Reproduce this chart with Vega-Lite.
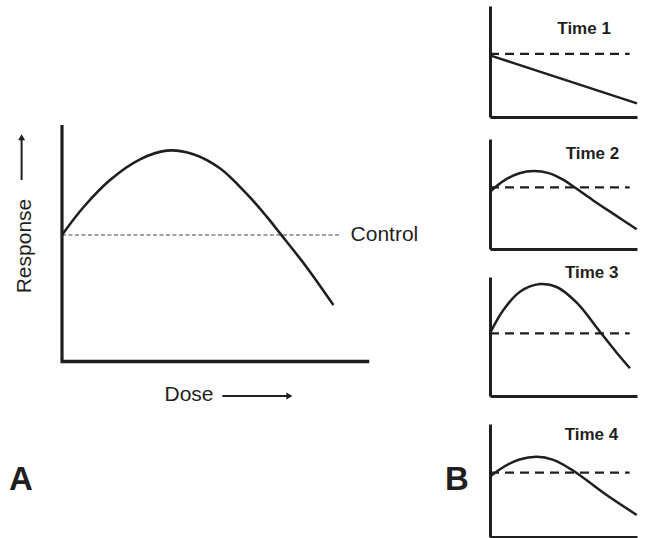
{
  "$schema": "https://vega.github.io/schema/vega-lite/v6.json",
  "padding": {"top": 6, "left": 0, "right": 0, "bottom": 0},
  "background": "white",
  "bounds": "flush",
  "config": {
    "view": {"stroke": null},
    "font": "Liberation Sans",
    "axis": {"domain": true, "domainWidth": 3, "domainColor": "#1f1f1f", "ticks": false, "labels": false, "grid": false, "title": null},
    "text": {"font": "Liberation Sans", "color": "#1f1f1f"}
  },
  "datasets": {
    "curves": [
      {"panel": "A", "dose": 0, "response": 53.2},
      {"panel": "A", "dose": 7, "response": 65.0},
      {"panel": "A", "dose": 15.7, "response": 76.6},
      {"panel": "A", "dose": 25.5, "response": 85.4},
      {"panel": "A", "dose": 34.2, "response": 89.1},
      {"panel": "A", "dose": 42.9, "response": 87.6},
      {"panel": "A", "dose": 51.6, "response": 81.6},
      {"panel": "A", "dose": 60.3, "response": 70.8},
      {"panel": "A", "dose": 66.9, "response": 61.0},
      {"panel": "A", "dose": 71.2, "response": 54.0},
      {"panel": "A", "dose": 80.0, "response": 39.4},
      {"panel": "A", "dose": 88.7, "response": 23.4},
      {"panel": "Time 1", "dose": 0, "response": 55.5},
      {"panel": "Time 1", "dose": 100, "response": 12.3},
      {"panel": "Time 2", "dose": 0, "response": 52.1},
      {"panel": "Time 2", "dose": 10, "response": 62.6},
      {"panel": "Time 2", "dose": 20, "response": 68.9},
      {"panel": "Time 2", "dose": 30, "response": 71.0},
      {"panel": "Time 2", "dose": 40, "response": 69.0},
      {"panel": "Time 2", "dose": 50, "response": 62.8},
      {"panel": "Time 2", "dose": 58, "response": 55.6},
      {"panel": "Time 2", "dose": 70, "response": 44.4},
      {"panel": "Time 2", "dose": 85, "response": 31.0},
      {"panel": "Time 2", "dose": 99.8, "response": 17.9},
      {"panel": "Time 3", "dose": 0.5, "response": 54.0},
      {"panel": "Time 3", "dose": 9.1, "response": 72.3},
      {"panel": "Time 3", "dose": 20.4, "response": 87.6},
      {"panel": "Time 3", "dose": 34.0, "response": 94.1},
      {"panel": "Time 3", "dose": 45.4, "response": 91.6},
      {"panel": "Time 3", "dose": 59.0, "response": 78.4},
      {"panel": "Time 3", "dose": 74.8, "response": 54.0},
      {"panel": "Time 3", "dose": 86.2, "response": 36.4},
      {"panel": "Time 3", "dose": 95.2, "response": 23.3},
      {"panel": "Time 4", "dose": 0.5, "response": 54.0},
      {"panel": "Time 4", "dose": 10, "response": 62.6},
      {"panel": "Time 4", "dose": 20, "response": 68.6},
      {"panel": "Time 4", "dose": 31.8, "response": 71.1},
      {"panel": "Time 4", "dose": 43.1, "response": 68.3},
      {"panel": "Time 4", "dose": 56.7, "response": 58.6},
      {"panel": "Time 4", "dose": 77.1, "response": 39.2},
      {"panel": "Time 4", "dose": 99.8, "response": 19.5}
    ],
    "controls": [
      {"panel": "A", "control": 53.2, "label": "Control"},
      {"panel": "Time 1", "control": 56.8, "label": "Time 1"},
      {"panel": "Time 2", "control": 56.0, "label": "Time 2"},
      {"panel": "Time 3", "control": 52.7, "label": "Time 3"},
      {"panel": "Time 4", "control": 56.9, "label": "Time 4"}
    ]
  },
  "hconcat": [
    {
      "width": 490,
      "height": 532,
      "layer": [
        {
          "data": {"name": "controls"},
          "transform": [{"filter": "datum.panel === 'A'"}],
          "mark": {"type": "rule", "strokeWidth": 1, "strokeDash": [4, 2.5], "color": "#444"},
          "encoding": {
            "y": {"field": "control", "type": "quantitative", "scale": {"domain": [-75.74, 150.64], "nice": false, "zero": false}, "axis": null},
            "x": {"datum": 0, "type": "quantitative", "scale": {"domain": [-20.26, 139.87], "nice": false, "zero": false}, "axis": null},
            "x2": {"datum": 90.8}
          }
        },
        {
          "data": {"name": "controls"},
          "transform": [{"filter": "datum.panel === 'A'"}],
          "mark": {"type": "text", "align": "left", "baseline": "middle", "fontSize": 21},
          "encoding": {
            "y": {"field": "control", "type": "quantitative"},
            "x": {"datum": 94.3, "type": "quantitative"},
            "text": {"field": "label"}
          }
        },
        {
          "data": {"name": "curves"},
          "transform": [{"filter": "datum.panel === 'A'"}],
          "mark": {"type": "line", "interpolate": "catmull-rom", "strokeWidth": 2.6, "color": "#1f1f1f"},
          "encoding": {
            "x": {"field": "dose", "type": "quantitative"},
            "y": {"field": "response", "type": "quantitative"}
          }
        },
        {
          "data": {"values": [{"axis": "response"}]},
          "mark": {"type": "rule", "strokeWidth": 3.2, "color": "#1f1f1f"},
          "encoding": {"x": {"datum": 0, "type": "quantitative"}, "y": {"datum": 0, "type": "quantitative"}, "y2": {"datum": 100}}
        },
        {
          "data": {"values": [{"axis": "dose"}]},
          "mark": {"type": "rule", "strokeWidth": 3.5, "color": "#1f1f1f"},
          "encoding": {"x": {"datum": -0.5, "type": "quantitative"}, "x2": {"datum": 100.4}, "y": {"datum": -0.6, "type": "quantitative"}}
        },
        {
          "data": {"values": [{"t": "Response"}]},
          "mark": {"type": "text", "angle": 270, "align": "center", "baseline": "middle", "fontSize": 21},
          "encoding": {"x": {"datum": -12.0, "type": "quantitative"}, "y": {"datum": 48.5, "type": "quantitative"}, "text": {"field": "t"}}
        },
        {
          "data": {"values": [{"t": "Dose"}]},
          "mark": {"type": "text", "align": "center", "baseline": "middle", "fontSize": 21},
          "encoding": {"x": {"datum": 41.5, "type": "quantitative"}, "y": {"datum": -14.9, "type": "quantitative"}, "text": {"field": "t"}}
        },
        {
          "data": {"values": [{"t": "response arrow"}]},
          "mark": {"type": "rule", "strokeWidth": 2, "color": "#1f1f1f"},
          "encoding": {"x": {"datum": -13.2, "type": "quantitative"}, "y": {"datum": 76.6, "type": "quantitative"}, "y2": {"datum": 94.0}}
        },
        {
          "data": {"values": [{"t": "response arrow"}]},
          "mark": {"type": "point", "shape": "triangle-up", "filled": true, "size": 50, "color": "#1f1f1f", "opacity": 1},
          "encoding": {"x": {"datum": -13.2, "type": "quantitative"}, "y": {"datum": 94.8, "type": "quantitative"}}
        },
        {
          "data": {"values": [{"t": "dose arrow"}]},
          "mark": {"type": "rule", "strokeWidth": 2, "color": "#1f1f1f"},
          "encoding": {"x": {"datum": 52.4, "type": "quantitative"}, "x2": {"datum": 73.5}, "y": {"datum": -15.3, "type": "quantitative"}}
        },
        {
          "data": {"values": [{"t": "dose arrow"}]},
          "mark": {"type": "point", "shape": "triangle-right", "filled": true, "size": 50, "color": "#1f1f1f", "opacity": 1},
          "encoding": {"x": {"datum": 74.3, "type": "quantitative"}, "y": {"datum": -15.3, "type": "quantitative"}}
        },
        {
          "data": {"values": [{"t": "A"}]},
          "mark": {"type": "text", "align": "center", "baseline": "middle", "fontSize": 33, "fontWeight": "bold"},
          "encoding": {"x": {"datum": -13.4, "type": "quantitative"}, "y": {"datum": -51.1, "type": "quantitative"}, "text": {"field": "t"}}
        },
        {
          "data": {"values": [{"t": "B"}]},
          "mark": {"type": "text", "align": "center", "baseline": "middle", "fontSize": 33, "fontWeight": "bold"},
          "encoding": {"x": {"datum": 129.1, "type": "quantitative"}, "y": {"datum": -51.1, "type": "quantitative"}, "text": {"field": "t"}}
        }
      ]
    },
    {
      "spacing": 22,
      "bounds": "flush",
      "vconcat": [
        {
          "width": 147,
          "height": 111,
          "layer": [
            {
              "data": {"name": "controls"},
              "transform": [{"filter": "datum.panel === 'Time 1'"}],
              "mark": {"type": "rule", "strokeWidth": 2.2, "strokeDash": [9, 6], "color": "#1f1f1f"},
              "encoding": {"y": {"field": "control", "type": "quantitative"}, "x": {"datum": 0, "type": "quantitative"}, "x2": {"datum": 95}}
            },
            {
              "data": {"name": "curves"},
              "transform": [{"filter": "datum.panel === 'Time 1'"}],
              "mark": {"type": "line", "interpolate": "catmull-rom", "strokeWidth": 2.5, "color": "#1f1f1f"},
              "encoding": {
                "x": {"field": "dose", "type": "quantitative", "scale": {"domain": [0, 100], "nice": false, "zero": false}},
                "y": {"field": "response", "type": "quantitative", "scale": {"domain": [0, 100], "nice": false, "zero": false}}
              }
            },
            {
              "data": {"name": "controls"},
              "transform": [{"filter": "datum.panel === 'Time 1'"}],
              "mark": {"type": "text", "align": "center", "baseline": "middle", "fontSize": 17, "fontWeight": "bold"},
              "encoding": {"x": {"datum": 64, "type": "quantitative"}, "y": {"datum": 79.3, "type": "quantitative"}, "text": {"field": "label"}}
            }
          ]
        },
        {
          "spacing": 28,
          "bounds": "flush",
          "vconcat": [
            {
              "width": 147,
              "height": 110,
              "layer": [
                {
                  "data": {"name": "controls"},
                  "transform": [{"filter": "datum.panel === 'Time 2'"}],
                  "mark": {"type": "rule", "strokeWidth": 2.2, "strokeDash": [9, 6], "color": "#1f1f1f"},
                  "encoding": {"y": {"field": "control", "type": "quantitative"}, "x": {"datum": 0, "type": "quantitative"}, "x2": {"datum": 95}}
                },
                {
                  "data": {"name": "curves"},
                  "transform": [{"filter": "datum.panel === 'Time 2'"}],
                  "mark": {"type": "line", "interpolate": "catmull-rom", "strokeWidth": 2.5, "color": "#1f1f1f"},
                  "encoding": {
                    "x": {"field": "dose", "type": "quantitative", "scale": {"domain": [0, 100], "nice": false, "zero": false}},
                    "y": {"field": "response", "type": "quantitative", "scale": {"domain": [0, 100], "nice": false, "zero": false}}
                  }
                },
                {
                  "data": {"name": "controls"},
                  "transform": [{"filter": "datum.panel === 'Time 2'"}],
                  "mark": {"type": "text", "align": "center", "baseline": "middle", "fontSize": 17, "fontWeight": "bold"},
                  "encoding": {"x": {"datum": 69.7, "type": "quantitative"}, "y": {"datum": 86.8, "type": "quantitative"}, "text": {"field": "label"}}
                }
              ]
            },
            {
              "width": 147,
              "height": 119,
              "layer": [
                {
                  "data": {"name": "controls"},
                  "transform": [{"filter": "datum.panel === 'Time 3'"}],
                  "mark": {"type": "rule", "strokeWidth": 2.2, "strokeDash": [9, 6], "color": "#1f1f1f"},
                  "encoding": {"y": {"field": "control", "type": "quantitative"}, "x": {"datum": 0, "type": "quantitative"}, "x2": {"datum": 95}}
                },
                {
                  "data": {"name": "curves"},
                  "transform": [{"filter": "datum.panel === 'Time 3'"}],
                  "mark": {"type": "line", "interpolate": "catmull-rom", "strokeWidth": 2.5, "color": "#1f1f1f"},
                  "encoding": {
                    "x": {"field": "dose", "type": "quantitative", "scale": {"domain": [0, 100], "nice": false, "zero": false}},
                    "y": {"field": "response", "type": "quantitative", "scale": {"domain": [0, 100], "nice": false, "zero": false}}
                  }
                },
                {
                  "data": {"name": "controls"},
                  "transform": [{"filter": "datum.panel === 'Time 3'"}],
                  "mark": {"type": "text", "align": "center", "baseline": "middle", "fontSize": 17, "fontWeight": "bold"},
                  "encoding": {"x": {"datum": 69.2, "type": "quantitative"}, "y": {"datum": 103.4, "type": "quantitative"}, "text": {"field": "label"}}
                }
              ]
            },
            {
              "width": 147,
              "height": 113,
              "layer": [
                {
                  "data": {"name": "controls"},
                  "transform": [{"filter": "datum.panel === 'Time 4'"}],
                  "mark": {"type": "rule", "strokeWidth": 2.2, "strokeDash": [9, 6], "color": "#1f1f1f"},
                  "encoding": {"y": {"field": "control", "type": "quantitative"}, "x": {"datum": 0, "type": "quantitative"}, "x2": {"datum": 95}}
                },
                {
                  "data": {"name": "curves"},
                  "transform": [{"filter": "datum.panel === 'Time 4'"}],
                  "mark": {"type": "line", "interpolate": "catmull-rom", "strokeWidth": 2.5, "color": "#1f1f1f"},
                  "encoding": {
                    "x": {"field": "dose", "type": "quantitative", "scale": {"domain": [0, 100], "nice": false, "zero": false}},
                    "y": {"field": "response", "type": "quantitative", "scale": {"domain": [0, 100], "nice": false, "zero": false}}
                  }
                },
                {
                  "data": {"name": "controls"},
                  "transform": [{"filter": "datum.panel === 'Time 4'"}],
                  "mark": {"type": "text", "align": "center", "baseline": "middle", "fontSize": 17, "fontWeight": "bold"},
                  "encoding": {"x": {"datum": 69, "type": "quantitative"}, "y": {"datum": 90.3, "type": "quantitative"}, "text": {"field": "label"}}
                }
              ]
            }
          ]
        }
      ]
    }
  ],
  "spacing": 0
}
